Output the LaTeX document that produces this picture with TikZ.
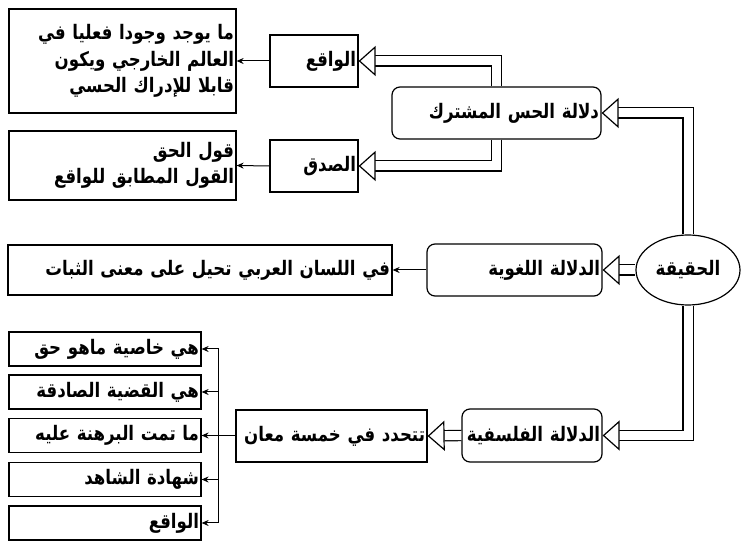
\documentclass[tikz,border=0pt]{standalone}
\usepackage{fontspec}
\usepackage{tikz}
\usetikzlibrary{arrows.meta,shapes.geometric}
\newfontfamily\arabicfont[Script=Arabic, FakeStretch=0.83]{DejaVu Sans}
\TeXXeTstate=1
\newcommand{\Rtl}[1]{\beginR #1\endR}% one line of right-to-left text

\begin{document}
\begin{tikzpicture}[x=0.5pt, y=-0.5pt, line join=miter,
  box/.style={draw, rectangle, line width=0.6pt, inner sep=1pt, align=right,
    font=\arabicfont\bfseries\fontsize{10}{13.25}\selectfont},
  rbox/.style={box, rounded corners=4pt},
  hollow/.style={double, double distance=4.5pt, line width=0.6pt,
    -{Triangle[open, fill=white, length=8.5pt, width=15pt, line width=0.6pt]}},
  thinarrow/.style={line width=0.5pt, -{Stealth[length=3.5pt, width=3pt]}}]
\useasboundingbox (0,0) rectangle (750,550);
\node [box, text width=111.5pt, minimum height=52pt] (def1) at (122.5,61)
  {\Rtl{ما يوجد وجودا فعليا في}\\\Rtl{العالم الخارجي ويكون}\\\Rtl{قابلا للإدراك الحسي}};
\node [box, text width=42pt, minimum height=26pt] (waqi) at (314,61) {\Rtl{الواقع}};
\node [box, text width=111.5pt, minimum height=34.5pt] (def2) at (122.5,165.5)
  {\Rtl{قول الحق}\\\Rtl{القول المطابق للواقع}};
\node [box, text width=42pt, minimum height=26pt] (sidq) at (314,166) {\Rtl{الصدق}};
\node [rbox, text width=102.5pt, minimum height=26pt] (hiss) at (496.5,113) {\Rtl{دلالة الحس المشترك}};
\node [box, ellipse, align=center, inner sep=0pt, minimum width=52pt, minimum height=35pt] (haqiqa) at (688,270) {\Rtl{الحقيقة}};
\node [rbox, text width=85.5pt, minimum height=26pt] (lugha) at (514.5,270) {\Rtl{الدلالة اللغوية}};
\node [box, text width=190pt, minimum height=25pt] (lughadef) at (200,270) {\Rtl{في اللسان العربي تحيل على معنى الثبات}};
\node [rbox, text width=68pt, minimum height=26.5pt] (falsafa) at (532,435.5) {\Rtl{الدلالة الفلسفية}};
\node [box, text width=93.5pt, minimum height=26pt] (tahdid) at (331.5,436) {\Rtl{تتحدد في خمسة معان}};
\node [box, text width=94pt, minimum height=17pt] (m1) at (105,349) {\Rtl{هي خاصية ماهو حق}};
\node [box, text width=94pt, minimum height=17pt] (m2) at (105,392) {\Rtl{هي القضية الصادقة}};
\node [box, text width=94pt, minimum height=17pt] (m3) at (105,435.5) {\Rtl{ما تمت البرهنة عليه}};
\node [box, text width=94pt, minimum height=17pt] (m4) at (105,479.5) {\Rtl{شهادة الشاهد}};
\node [box, text width=94pt, minimum height=17pt] (m5) at (105,523) {\Rtl{الواقع}};
\coordinate (bus) at (218,436);

\draw [hollow] (hiss.north) |- (waqi.east);
\draw [hollow] (hiss.south) |- (sidq.east);
\draw [hollow] (haqiqa.north) |- (hiss.east);
\draw [hollow] (haqiqa.west) -- (lugha.east);
\draw [hollow] (haqiqa.south) |- (falsafa.east);
\draw [hollow] (falsafa.west) -- (tahdid.east);
\draw [thinarrow] (waqi.west) -- (def1.east);
\draw [thinarrow] (sidq.west) -- (def2.east);
\draw [thinarrow] (lugha.west) -- (lughadef.east);
\draw [line width=0.5pt] (tahdid.west) -- (bus);
\foreach \m in {m1,m2,m3,m4,m5}
  \draw [thinarrow] (bus) |- (\m.east);
\end{tikzpicture}
\end{document}
